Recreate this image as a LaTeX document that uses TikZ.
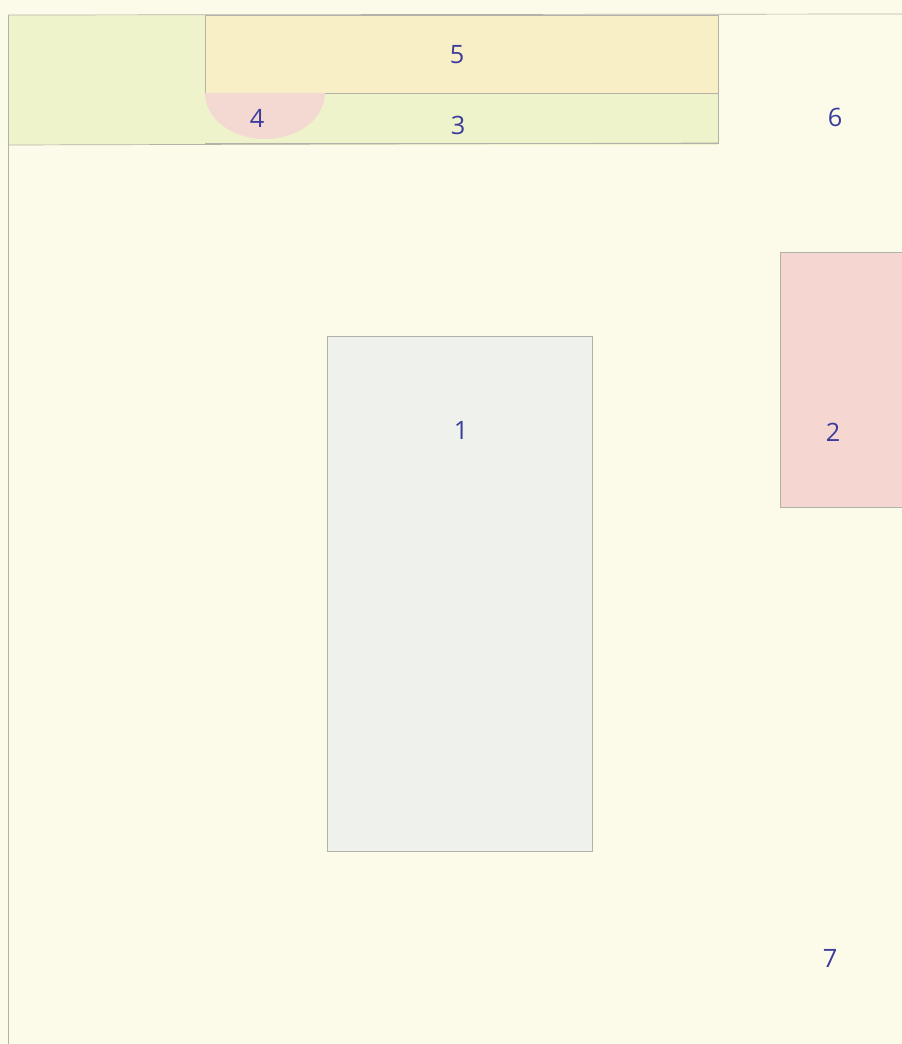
\documentclass[tikz,border=0pt]{standalone}
\usepackage{fontspec}
\setsansfont{Open Sans}
\usetikzlibrary{positioning}
\definecolor{paper}{HTML}{FCFBEA}
\definecolor{greenwash}{HTML}{EEF3CB}
\definecolor{yellowwash}{HTML}{F8EFC6}
\definecolor{pinkwash}{HTML}{F4D8D2}
\definecolor{greywash}{HTML}{EFF1EC}
\definecolor{rosewash}{HTML}{F6D6D1}
\definecolor{ink}{HTML}{3C3C9C}
\definecolor{pencil}{HTML}{B4B2A8}
\begin{document}
\begin{tikzpicture}[
    x=0.02cm, y=-0.02cm,
    font=\sffamily\Large,
    wall/.style={draw=pencil, line width=0.4pt},
    room/.style={wall, fill=#1},
    num/.style={text=ink, inner sep=1pt}
]
% paper
\fill[paper] (0,0) rectangle (902,1044);
\useasboundingbox (0,0) rectangle (902,1044);
% top strip
\fill[greenwash] (8,15) rectangle (718,145);
\draw[room=yellowwash] (205,15) rectangle (718,93);
\draw[wall] (205,93) -- (718,93) -- (718,143) -- (205,143);
\fill[pinkwash] (205,93) arc[start angle=180, end angle=360, x radius=60, y radius=-46] -- cycle;
\draw[wall] (8,15) -- (902,14);
\draw[wall] (8,145) -- (718,143);
\draw[wall] (8,15) -- (8,1044);
% rooms
\draw[room=greywash] (327,336) rectangle (592,851);
\draw[room=rosewash] (902,252) -- (780,252) -- (780,507) -- (902,507);
% numbers
\foreach \n/\px/\py in {1/461/430, 2/833/432, 3/458/125, 4/257/118, 5/457/55, 6/835/117, 7/830/958}{
    \node[num] (n\n) at (\px,\py) {\n};
}
\end{tikzpicture}
\end{document}
